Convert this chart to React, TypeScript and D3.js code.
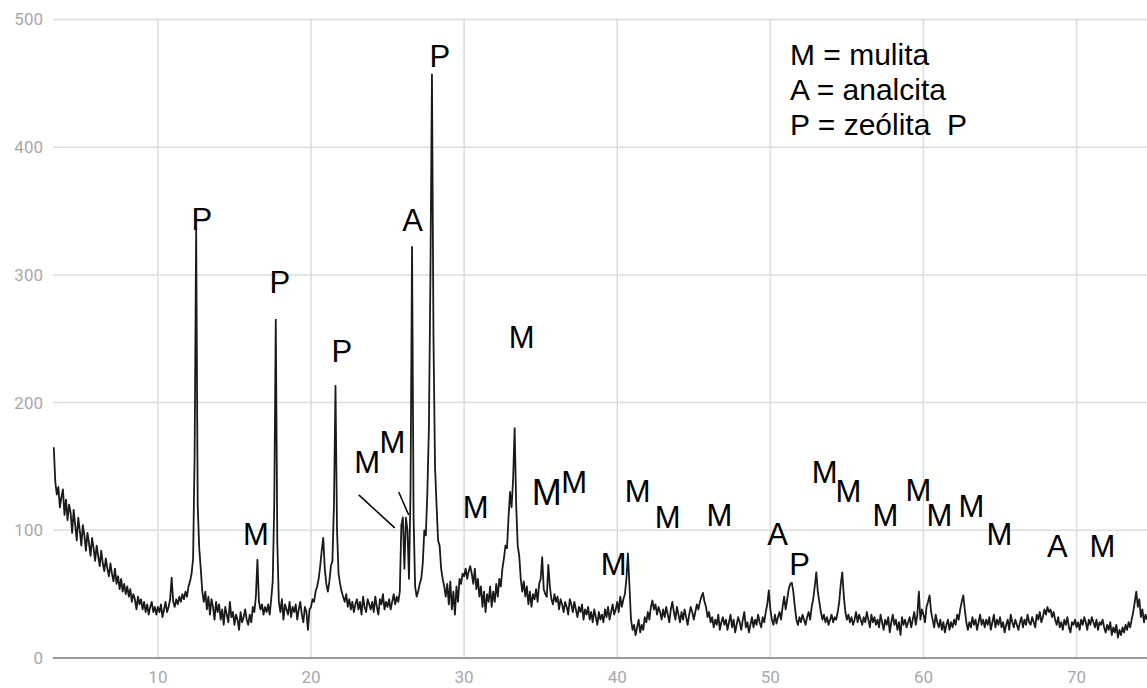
import React from 'react';
import * as d3 from 'd3';

// 2-theta scan, 3.2 .. 74.6 deg, step 0.1
const startDeg = 3.2;
const stepDeg = 0.1;
const intensity: number[] = [
  165, 138, 128, 134, 118, 126, 132, 112,
  124, 108, 120, 114, 98, 116, 104, 92, 110, 100,
  88, 104, 96, 84, 98, 90, 80, 94, 86, 76,
  88, 80, 72, 84, 74, 68, 78, 70, 64, 74,
  66, 60, 70, 58, 64, 54, 62, 52, 58, 50,
  56, 48, 54, 44, 50, 46, 38, 48, 42, 46,
  38, 44, 36, 42, 34, 40, 44, 36, 40, 34,
  40, 36, 42, 32, 38, 44, 36, 40, 46, 63,
  44, 40, 46, 42, 48, 44, 50, 46, 52, 48,
  56, 60, 66, 78, 160, 335, 120, 86, 70, 52,
  44, 52, 38, 48, 34, 46, 40, 30, 44, 36,
  42, 30, 38, 26, 40, 34, 28, 44, 32, 36,
  26, 34, 30, 22, 36, 28, 32, 38, 30, 26,
  34, 28, 40, 36, 48, 77, 44, 38, 42, 34,
  40, 36, 42, 34, 46, 60, 120, 265, 90, 44,
  36, 46, 30, 42, 38, 34, 44, 32, 40, 36,
  42, 30, 38, 44, 34, 28, 40, 36, 22, 38,
  40, 46, 44, 52, 56, 62, 72, 84, 94, 70,
  58, 52, 60, 72, 76, 120, 213, 100, 66, 58,
  52, 48, 44, 50, 40, 46, 38, 44, 36, 42,
  46, 38, 44, 34, 48, 40, 36, 46, 42, 38,
  44, 36, 48, 40, 34, 46, 42, 50, 38, 44,
  40, 46, 38, 44, 50, 42, 48, 44, 52, 104,
  110, 70, 110, 100, 62, 130, 322, 110, 56, 48,
  52, 58, 62, 74, 100, 96, 130, 180, 300, 457,
  250, 150, 120, 92, 88, 70, 62, 56, 48, 58,
  42, 60, 38, 52, 34, 56, 44, 62, 58, 66,
  64, 70, 62, 68, 72, 66, 58, 70, 54, 62,
  48, 56, 40, 52, 36, 50, 44, 56, 40, 52,
  44, 58, 48, 62, 56, 70, 78, 88, 86, 110,
  130, 118, 140, 180, 120, 88, 80, 62, 52, 60,
  48, 56, 42, 52, 40, 50, 46, 54, 44, 58,
  62, 79, 54, 50, 48, 73, 56, 46, 42, 50,
  44, 48, 38, 46, 42, 36, 44, 40, 34, 46,
  42, 36, 44, 38, 32, 40, 36, 42, 30, 38,
  34, 40, 30, 36, 28, 38, 32, 26, 36, 30,
  34, 28, 38, 32, 40, 30, 36, 42, 34, 38,
  44, 36, 48, 40, 46, 50, 62, 82, 56, 30,
  22, 26, 18, 24, 30, 20, 26, 22, 32, 28,
  36, 30, 40, 45, 38, 42, 34, 40, 36, 30,
  38, 32, 40, 34, 28, 38, 44, 36, 30, 40,
  34, 28, 36, 30, 38, 32, 26, 34, 40, 36,
  30, 36, 42, 38, 44, 48, 51, 44, 40, 32,
  36, 28, 32, 24, 30, 26, 34, 22, 28, 32,
  26, 30, 22, 28, 34, 24, 30, 20, 26, 32,
  28, 22, 30, 36, 24, 28, 20, 26, 32, 24,
  30, 26, 34, 28, 24, 32, 28, 36, 42, 53,
  38, 30, 26, 34, 27, 32, 36, 30, 40, 48,
  38, 46, 54, 58, 59, 52, 40, 30, 26, 32,
  28, 34, 30, 26, 32, 36, 30, 40, 46, 56,
  67, 52, 44, 36, 30, 34, 28, 32, 26, 30,
  34, 28, 32, 30, 36, 44, 58, 67, 48, 36,
  30, 34, 28, 32, 26, 30, 36, 28, 34, 30,
  26, 32, 28, 36, 30, 24, 34, 28, 32, 26,
  30, 24, 34, 28, 22, 30, 26, 32, 20, 28,
  34, 26, 30, 22, 28, 18, 32, 26, 30, 24,
  28, 32, 24, 30, 36, 26, 34, 52, 30, 38,
  34, 28, 40, 44, 49, 36, 30, 24, 34, 28,
  24, 30, 22, 28, 20, 26, 30, 22, 28, 24,
  30, 26, 34, 30, 38, 44, 49, 38, 28, 22,
  28, 24, 32, 26, 30, 22, 28, 34, 26, 30,
  24, 30, 26, 32, 22, 28, 34, 24, 30, 26,
  32, 24, 28, 20, 26, 30, 22, 34, 28, 24,
  30, 26, 22, 28, 32, 24, 30, 26, 34, 28,
  26, 32, 28, 24, 34, 30, 36, 28, 32, 38,
  34, 40, 36, 38, 32, 36, 30, 26, 32, 24,
  28, 22, 30, 26, 32, 24, 20, 28, 26, 30,
  24, 28, 22, 30, 26, 32, 28, 22, 30, 26,
  32, 28, 24, 30, 22, 28, 26, 30, 24, 20,
  26, 22, 28, 18, 24, 20, 26, 16, 22, 18,
  24, 20, 26, 22, 28, 24, 30, 36, 44, 52,
  40, 46, 32, 38, 28, 34, 30,
];

const xTicks = [10, 20, 30, 40, 50, 60, 70];
const yTicks = [0, 100, 200, 300, 400, 500];

// phase labels placed at (2-theta, counts)
const labelText = ['P', 'M', 'P', 'P', 'M', 'M', 'A', 'P', 'M', 'M', 'M', 'M', 'M', 'M', 'M', 'M', 'A', 'P', 'M', 'M', 'M', 'M', 'M', 'M', 'M', 'A', 'M'];
const labelDeg = [12.87, 16.4, 17.96, 22.01, 23.67, 25.31, 26.64, 28.41, 33.76, 30.76, 35.39, 37.19, 39.77, 41.33, 43.29, 46.68, 50.47, 51.91, 53.54, 55.1, 57.52, 59.67, 61.04, 63.13, 64.96, 68.75, 71.68];
const labelCount = [335, 88.6, 286, 232, 145, 160.7, 334, 463, 243, 110, 120, 129, 65, 122, 102, 103, 88.6, 65, 137, 122, 103, 123, 103, 110.5, 88.6, 79, 79];

const leaderFrom: [number, number][] = [[23.12, 127.7], [25.73, 130]];
const leaderTo: [number, number][] = [[25.47, 101.9], [26.38, 112]];

const legendLines = ['M = mulita', 'A = analcita', 'P = zeólita  P'];

export default function App() {
  const W = 1147;
  const H = 688;
  const left = 53;
  const right = 1147;
  const top = 19.5;
  const bottom = 658;

  const x = d3.scaleLinear().domain([3.15, 74.6]).range([left, right]);
  const y = d3.scaleLinear().domain([0, 500]).range([bottom, top]);

  const pts = intensity.map((v, i) => [startDeg + i * stepDeg, v] as [number, number]);
  const line = d3.line<[number, number]>().x(d => x(d[0])).y(d => y(d[1]));

  return (
    <div style={{ position: 'fixed', left: 0, top: 0, background: '#fff' }}>
      <svg width={W} height={H} style={{ display: 'block' }}>
        <defs>
          <clipPath id="plot">
            <rect x={left} y={0} width={right - left} height={bottom} />
          </clipPath>
        </defs>
        <rect width={W} height={H} fill="#fff" />
        {yTicks.filter(t => t > 0).map(t => (
          <line key={'gy' + t} x1={left} x2={right} y1={y(t)} y2={y(t)} stroke="#dcdcdc" strokeWidth={1.5} />
        ))}
        {xTicks.map(t => (
          <line key={'gx' + t} x1={x(t)} x2={x(t)} y1={top} y2={bottom} stroke="#dcdcdc" strokeWidth={1.5} />
        ))}
        <line x1={left} x2={right} y1={y(0)} y2={y(0)} stroke="#9a9a9a" strokeWidth={2} />
        {yTicks.map(t => (
          <text key={'ty' + t} x={43} y={y(t)} dy="0.35em" textAnchor="end" fontFamily="Roboto, sans-serif" fontSize={17} fill="#a8a8a8">{t}</text>
        ))}
        {xTicks.map(t => (
          <text key={'tx' + t} x={x(t)} y={683} textAnchor="middle" fontFamily="Roboto, sans-serif" fontSize={17} fill="#a8a8a8">{t}</text>
        ))}
        <path d={line(pts) ?? ''} fill="none" stroke="#1a1a1a" strokeWidth={1.8} strokeLinejoin="round" clipPath="url(#plot)" />
        {leaderFrom.map((p, i) => (
          <line key={'ld' + i} x1={x(p[0])} y1={y(p[1])} x2={x(leaderTo[i][0])} y2={y(leaderTo[i][1])} stroke="#000" strokeWidth={1.5} />
        ))}
        {labelText.map((s, i) => (
          <text key={'lb' + i} x={x(labelDeg[i])} y={y(labelCount[i])} textAnchor="middle" fontFamily="'Liberation Sans', Arial, sans-serif" fontSize={i === 10 ? 36 : 31} fill="#000">{s}</text>
        ))}
        {legendLines.map((s, i) => (
          <text key={'lg' + i} x={790} y={65 + i * 35} fontFamily="'Liberation Sans', Arial, sans-serif" fontSize={30} fill="#000" style={{ whiteSpace: 'pre' }}>{s}</text>
        ))}
      </svg>
    </div>
  );
}
